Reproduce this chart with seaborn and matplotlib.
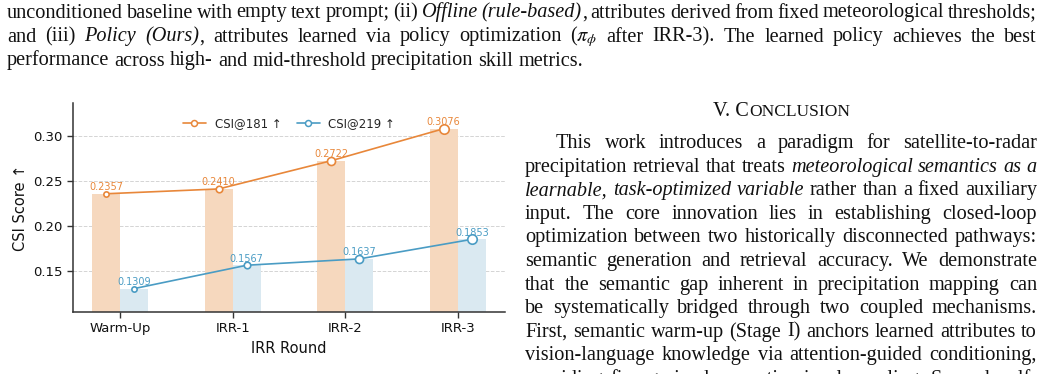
import matplotlib as mpl
mpl.use("Agg")
import matplotlib.pyplot as plt
from matplotlib.lines import Line2D
import numpy as np
import pandas as pd
import seaborn as sns

# chart values
ROUNDS = ["Warm-Up", "IRR-1", "IRR-2", "IRR-3"]
METRICS = ["CSI@181 ↑", "CSI@219 ↑"]
CSI_181 = [0.2357, 0.2410, 0.2722, 0.3076]
CSI_219 = [0.1309, 0.1567, 0.1637, 0.1853]

# surrounding page text (*...* = italic)
CAPTION_LINES = [
    "unconditioned baseline with empty text prompt; (ii) *Offline (rule-based)*, attributes derived from fixed meteorological thresholds;",
    "and (iii) *Policy (Ours)*, attributes learned via policy optimization ($\\pi_\\phi$ after IRR-3). The learned policy achieves the best",
    "performance across high- and mid-threshold precipitation skill metrics.",
]
BODY_LINES = [
    "This work introduces a paradigm for satellite-to-radar",
    "precipitation retrieval that treats *meteorological semantics as a*",
    "*learnable, task-optimized variable* rather than a fixed auxiliary",
    "input. The core innovation lies in establishing closed-loop",
    "optimization between two historically disconnected pathways:",
    "semantic generation and retrieval accuracy. We demonstrate",
    "that the semantic gap inherent in precipitation mapping can",
    "be systematically bridged through two coupled mechanisms.",
    "First, semantic warm-up (Stage I) anchors learned attributes to",
    "vision-language knowledge via attention-guided conditioning,",
    "providing fine-grained semantic-visual coupling. Second, self-",
]

LINE_COLORS = ["#E8873A", "#4A9CC4"]
BAR_COLORS = ["#F6D8BE", "#DAE9F1"]
MARKER_SIZES = [3.8, 4.7, 5.8, 6.8]

W, H = 1044, 374
SERIF = "Liberation Serif"
BODY_PT = 14.6
INK = "#111111"

sns.set_style("white")
plt.rcParams["font.family"] = ["DejaVu Sans"]
plt.rcParams["mathtext.fontset"] = "stix"


def split_words(line):
    words = []
    italic = False
    for raw in line.split(" "):
        pieces = []
        for k, chunk in enumerate(raw.split("*")):
            if k > 0:
                italic = not italic
            if chunk:
                pieces.append((chunk, italic))
        words.append(pieces)
    return words


def draw_line(fig, renderer, line, x0, x1, y, justify=True):
    words = split_words(line)
    placed = []
    widths = []
    for pieces in words:
        objs = []
        w = 0.0
        for chunk, it in pieces:
            t = fig.text(0, 1 - y / H, chunk, family=SERIF, size=BODY_PT,
                         style="italic" if it else "normal", color=INK,
                         va="baseline", ha="left")
            cw = t.get_window_extent(renderer).width
            objs.append((t, cw))
            w += cw
        placed.append(objs)
        widths.append(w)
    space = 0.25 * BODY_PT / 72 * fig.dpi
    if justify and len(words) > 1:
        gap = (x1 - x0 - sum(widths)) / (len(words) - 1)
    else:
        gap = space
    x = x0
    for objs, w in zip(placed, widths):
        cx = x
        for t, cw in objs:
            t.set_x(cx / W)
            cx += cw
        x += w + gap


def main():
    df = pd.DataFrame({
        "round": ROUNDS * 2,
        "metric": [METRICS[0]] * 4 + [METRICS[1]] * 4,
        "score": CSI_181 + CSI_219,
    })

    fig = plt.figure(figsize=(W / 100, H / 100), dpi=100)
    ax = fig.add_axes([73 / W, 1 - 312 / H, 432 / W, 209 / H])

    sns.barplot(data=df, x="round", y="score", hue="metric", palette=BAR_COLORS,
                width=0.5, saturation=1, linewidth=0, legend=False, ax=ax)

    offsets = [-0.125, 0.125]
    idx = np.arange(len(ROUNDS))
    for vals, off, col in zip([CSI_181, CSI_219], offsets, LINE_COLORS):
        xs = idx + off
        ax.plot(xs, vals, color=col, lw=1.2, zorder=3)
        for x, v, ms in zip(xs, vals, MARKER_SIZES):
            ax.annotate(f"{v:.4f}", (x, v), xytext=(0, 4.8), textcoords="offset points",
                        ha="center", va="center", fontsize=7, color=col, zorder=4)
            ax.plot([x], [v], "o", ms=ms, mfc="white", mec=col, mew=1.2, zorder=5)

    ax.set_xlim(-0.42, 3.42)
    ax.set_ylim(0.105, 0.336)
    ax.set_yticks([0.15, 0.20, 0.25, 0.30])
    ax.yaxis.set_major_formatter(mpl.ticker.FormatStrFormatter("%.2f"))
    ax.grid(axis="y", ls="--", color="#d4d4d4", lw=0.7)
    ax.set_axisbelow(True)
    sns.despine(ax=ax)
    for s in ("left", "bottom"):
        ax.spines[s].set_color("#333333")
        ax.spines[s].set_linewidth(1.1)
    ax.tick_params(axis="both", labelsize=9.5, labelcolor="#111111", length=4, width=1,
                   color="#333333", left=True, bottom=True)
    ax.set_xlabel("IRR Round", fontsize=10.5, color="#111111")
    ax.set_ylabel("CSI Score ↑", fontsize=10.5, color="#111111")

    handles = [Line2D([], [], color=c, lw=1.2, marker="o", ms=4.3, mfc="white", mec=c, mew=1.1)
               for c in LINE_COLORS]
    ax.legend(handles, METRICS, loc="upper center", ncol=2, frameon=False, fontsize=8.5,
              handlelength=2, handletextpad=0.7, columnspacing=1.3,
              bbox_to_anchor=(0.5, 0.985))

    renderer = fig.canvas.get_renderer()
    for k, line in enumerate(CAPTION_LINES):
        draw_line(fig, renderer, line, 7, 1037, 17.5 + 24 * k,
                  justify=k < len(CAPTION_LINES) - 1)

    # section heading in small caps
    big = fig.text(0, 1 - 116.5 / H, "V. C", family=SERIF, size=BODY_PT, color=INK, va="baseline")
    small = fig.text(0, 1 - 116.5 / H, "ONCLUSION", family=SERIF, size=BODY_PT * 0.86,
                     color=INK, va="baseline")
    wb = big.get_window_extent(renderer).width
    ws = small.get_window_extent(renderer).width
    start = 781 - (wb + ws) / 2
    big.set_x(start / W)
    small.set_x((start + wb + 1) / W)

    for k, line in enumerate(BODY_LINES):
        x0 = 556 if k == 0 else 525
        draw_line(fig, renderer, line, x0, 1037, 148 + 23.6 * k)

    fig.savefig("out.png", dpi=100)


if __name__ == "__main__":
    main()
